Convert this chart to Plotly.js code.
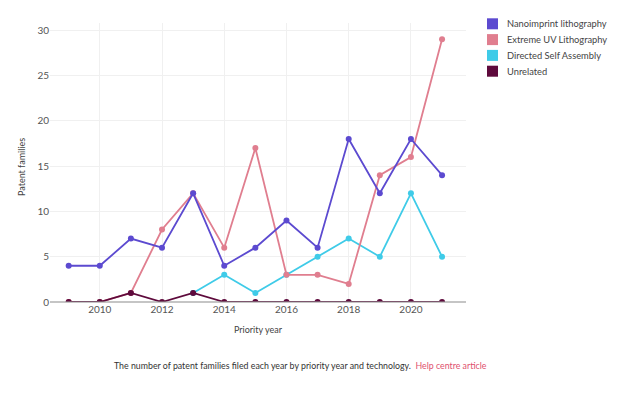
<!DOCTYPE html>
<html>
<head>
<meta charset="utf-8">
<script src="https://cdn.plot.ly/plotly-3.0.1.min.js"></script>
<style>html,body{margin:0;padding:0;background:#fff;}#chart{width:624px;height:394px;}</style>
</head>
<body>
<div id="chart"></div>
<script>
var years = [2009, 2010, 2011, 2012, 2013, 2014, 2015, 2016, 2017, 2018, 2019, 2020, 2021];
var nanoimprint = [4, 4, 7, 6, 12, 4, 6, 9, 6, 18, 12, 18, 14];
var extremeUV = [0, 0, 1, 8, 12, 6, 17, 3, 3, 2, 14, 16, 29];
var directedSelfAssembly = [null, null, null, null, 1, 3, 1, 3, 5, 7, 5, 12, 5];
var unrelated = [0, 0, 1, 0, 1, 0, 0, 0, 0, 0, 0, 0, 0];
var seriesNames = ["Nanoimprint lithography", "Extreme UV Lithography", "Directed Self Assembly", "Unrelated"];
var seriesValues = [nanoimprint, extremeUV, directedSelfAssembly, unrelated];
var colors = ["#5c4ad0", "#e07e8f", "#3fcbe8", "#5e0a3c"];

var FONT = "Lato, 'Noto Sans', sans-serif";
var traces = [];
var order = [2, 1, 0, 3];
order.forEach(function (i) {
  traces.push({
    type: "scatter", mode: "lines+markers", x: years, y: seriesValues[i],
    name: seriesNames[i], showlegend: false,
    line: {color: colors[i], width: 1.8},
    marker: {color: colors[i], size: 6}
  });
});

// custom legend (square swatches), placed in paper coords
var plotL = 50, plotW = 416, plotT = 23, plotH = 279;
function px2x(p) { return (p - plotL) / plotW; }
function py2y(p) { return (plotT + plotH - p) / plotH; }
var shapes = [], annotations = [];
seriesNames.forEach(function (n, i) {
  var cy = 23.8 + i * 15.8;
  shapes.push({type: "rect", xref: "paper", yref: "paper",
    x0: px2x(487), x1: px2x(498), y0: py2y(cy + 5.5), y1: py2y(cy - 5.5),
    fillcolor: colors[i], line: {width: 0}});
  annotations.push({xref: "paper", yref: "paper", x: px2x(505), y: py2y(cy),
    xanchor: "left", yanchor: "middle", showarrow: false, text: n,
    font: {size: 9.3, color: "#444"}});
});
annotations.push({
  xref: "paper", yref: "paper", x: px2x(112), y: py2y(365), xanchor: "left", yanchor: "middle",
  showarrow: false, font: {size: 8.8, color: "#333"},
  text: "The number of patent families filed each year by priority year and technology.  <span style=\"color:#e0506e\">Help centre article</span>"
});
annotations.push({
  xref: "paper", yref: "paper", x: px2x(21), y: py2y(167), xanchor: "center", yanchor: "middle",
  showarrow: false, textangle: -90, font: {size: 9, color: "#444"}, text: "Patent families"
});

var layout = {
  width: 624, height: 394,
  margin: {l: 50, r: 158, t: 23, b: 92, autoexpand: false},
  paper_bgcolor: "#fff", plot_bgcolor: "#fff",
  font: {family: FONT, size: 10, color: "#444"},
  showlegend: false,
  xaxis: {
    range: [2008.4, 2021.77], dtick: 2, tick0: 2010,
    showgrid: true, gridcolor: "#f0f0f0", zeroline: false,
    showline: false, ticks: "",
    tickfont: {size: 10, color: "#555"},
    title: {text: "Priority year", font: {size: 9, color: "#444"}, standoff: 12}
  },
  yaxis: {
    range: [0, 30.8], dtick: 5,
    showgrid: true, gridcolor: "#f0f0f0",
    zeroline: true, zerolinecolor: "rgba(150,150,150,0.55)", zerolinewidth: 2,
    zerolinelayer: "above traces",
    ticks: "", tickfont: {size: 10, color: "#555"}
  },
  shapes: shapes,
  annotations: annotations
};
Plotly.newPlot("chart", traces, layout, {displayModeBar: false, staticPlot: true});
</script>
</body>
</html>
